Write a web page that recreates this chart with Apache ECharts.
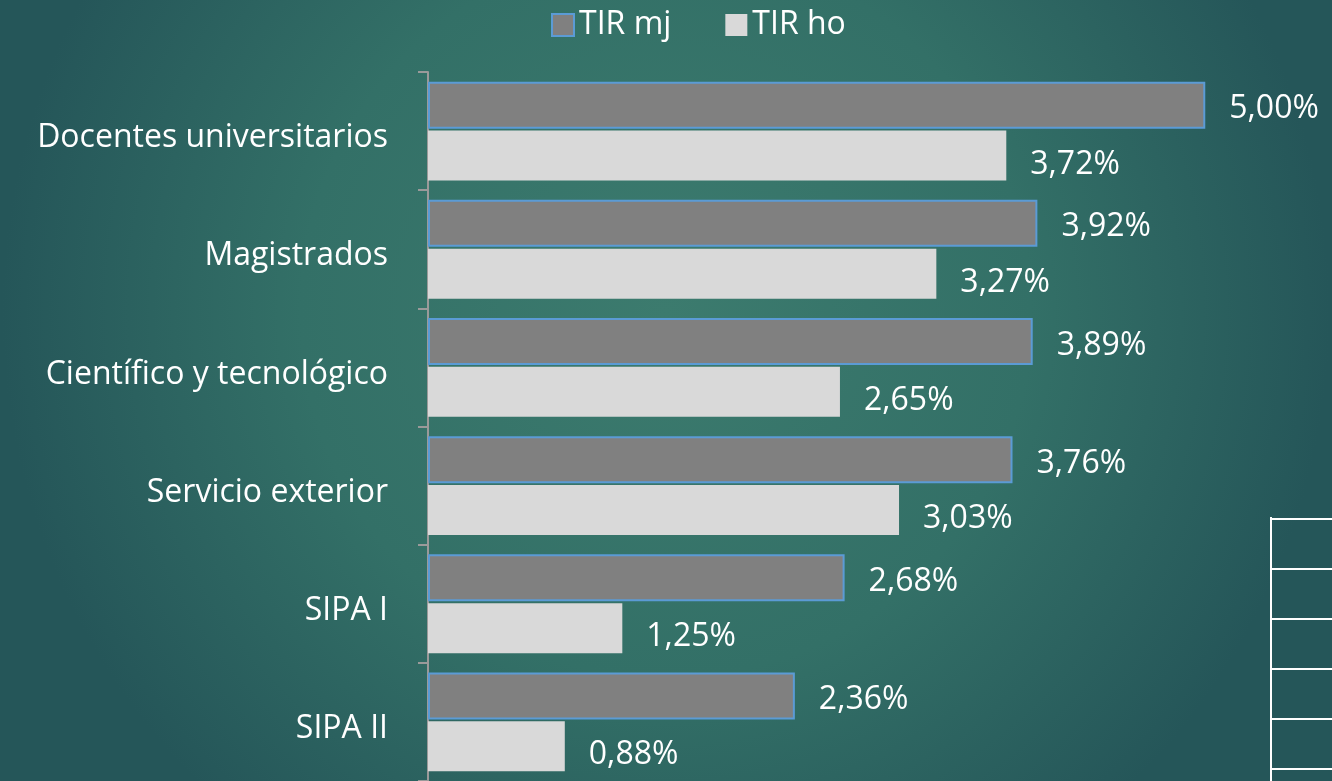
<!DOCTYPE html>
<html><head><meta charset="utf-8">
<script src="https://cdn.jsdelivr.net/npm/echarts@6/dist/echarts.min.js"></script>
<style>html,body{margin:0;padding:0;}#c{width:1332px;height:781px;}</style>
</head><body><div id="c"></div>
<script>
const categories = ['Docentes universitarios', 'Magistrados', 'Científico y tecnológico', 'Servicio exterior', 'SIPA I', 'SIPA II'];
const tirMj = [5.00, 3.92, 3.89, 3.76, 2.68, 2.36];
const tirHo = [3.72, 3.27, 2.65, 3.03, 1.25, 0.88];
const seriesNames = ['TIR mj', 'TIR ho'];

const fmt = p => p.value.toFixed(2).replace('.', ',') + '%';
const FONT = '"Open Sans", "Noto Sans", sans-serif';
const chart = echarts.init(document.getElementById('c'));

const tableLines = [];
tableLines.push({type:'line', shape:{x1:1271, y1:517, x2:1271, y2:781}, style:{stroke:'#ffffff', lineWidth:2}, silent:true});
[519, 569, 619, 669, 719, 769].forEach(y => tableLines.push({type:'line', shape:{x1:1271, y1:y, x2:1332, y2:y}, style:{stroke:'#ffffff', lineWidth:2}, silent:true}));

chart.setOption({
  backgroundColor: {type:'radial', x:0.5, y:0.4, r:0.85, colorStops:[
    {offset:0, color:'#3c7b6e'}, {offset:0.55, color:'#337067'}, {offset:1, color:'#255659'}]},
  textStyle: {fontFamily: FONT},
  legend: {
    top: 4, left: 546, itemWidth: 22, itemHeight: 22, itemGap: 54,
    icon: 'rect',
    textStyle: {color:'#ffffff', fontSize: 32, fontFamily: FONT},
    data: seriesNames
  },
  grid: {left: 428, right: 49, top: 72, bottom: 0, containLabel: false},
  xAxis: {type:'value', min:0, max:5.5, show:false},
  yAxis: {
    type:'category', data: categories, inverse: true,
    axisLine: {show:true, lineStyle:{color:'#9a9a9a', width:2}},
    axisTick: {show:true, inside:false, length:10, lineStyle:{color:'#9a9a9a', width:2}},
    axisLabel: {color:'#ffffff', fontSize: 32, margin: 40, fontFamily: FONT,
      formatter: v => '{a|' + v + '}',
      rich: {a: {color:'#ffffff', fontSize:32, fontFamily: FONT, padding:[14,0,0,0]}}},
    splitLine: {show:false}
  },
  series: [
    {name: seriesNames[0], type:'bar', data: tirMj, barWidth: 47, barGap: '4%', barCategoryGap: '17%',
     itemStyle: {color:'#808080', borderColor:'#5b9bd5', borderWidth:2},
     label: {show:true, position:'right', distance:24, color:'#ffffff', fontSize:32, fontFamily: FONT, formatter: fmt, offset:[0,4]}},
    {name: seriesNames[1], type:'bar', data: tirHo, barWidth: 50,
     itemStyle: {color:'#d9d9d9', borderColor:'#d9d9d9', borderWidth:0},
     label: {show:true, position:'right', distance:24, color:'#ffffff', fontSize:32, fontFamily: FONT, formatter: fmt, offset:[0,9]}}
  ],
  graphic: tableLines
});
</script></body></html>
